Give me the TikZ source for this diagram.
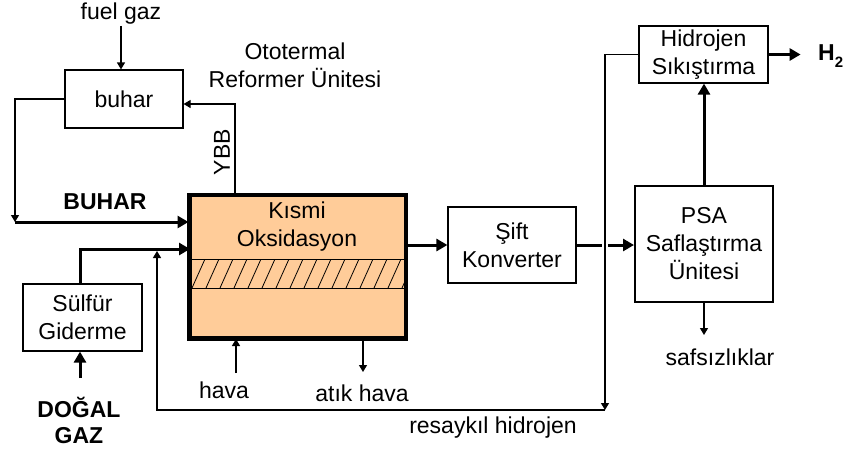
\documentclass[tikz,border=0pt]{standalone}
\usepackage{fontspec}
\setmainfont{Liberation Sans}
\usetikzlibrary{arrows.meta,positioning}
\definecolor{peach}{HTML}{FFCC99}

\begin{document}
\begin{tikzpicture}[
    x=1pt, y=-1pt,
    font=\fontsize{23}{28}\selectfont,
    box/.style={rectangle, draw, line width=1.2pt, fill=white,
                align=center, inner sep=2pt},
    reactor/.style={rectangle, draw, line width=3pt, fill=peach},
    lbl/.style={align=center, inner sep=1pt},
    arr/.style={-{Triangle[length=7pt,width=8pt]}, line width=1.2pt},
    flow/.style={-{Triangle[length=11pt,width=12pt]}, line width=3pt}
  ]
  \useasboundingbox (0,0) rectangle (851,448);

  \node[box, minimum width=118, minimum height=58] (buhar) at (124,99) {buhar};
  \node[box, minimum width=119, minimum height=67] (sulfur) at (82.5,317.5)
    {Sülfür\\Giderme};
  \node[reactor, minimum width=215, minimum height=142] (kox) at (297.5,266.5) {};
  \node[box, minimum width=128, minimum height=76] (sift) at (512,245)
    {Şift\\Konverter};
  \node[box, line width=2pt, minimum width=138, minimum height=116] (psa)
    at (704,244) {PSA\\Saflaştırma\\Ünitesi};
  \node[box, minimum width=129, minimum height=57] (hid) at (703.5,54.5)
    {Hidrojen\\Sıkıştırma};

  \begin{scope}
    \clip (190,259) rectangle (405,288);
    \foreach \x in {178,192,...,420}
      \draw[line width=0.8pt] (\x,288) -- (\x+13,259);
  \end{scope}
  \draw[line width=0.8pt] (190,259) -- (405,259) (190,288) -- (405,288);
  \draw[line width=3pt] (kox.north west) rectangle (kox.south east);
  \node[lbl] (koxlbl) at (297,227) {Kısmi\\Oksidasyon};

  \node[lbl] (fuel) at (121,14) {fuel gaz};
  \node[lbl] (otr) at (295,65) {Ototermal\\Reformer Ünitesi};
  \node[lbl, rotate=90] (ybb) at (222,152) {YBB};
  \node[lbl, font=\fontsize{23}{28}\selectfont\bfseries] (steam) at (105,202) {BUHAR};
  \node[lbl, font=\fontsize{23}{26}\selectfont\bfseries] (ng) at (79,420) {DOĞAL\\GAZ};
  \node[lbl] (hava) at (224,390) {hava};
  \node[lbl] (atik) at (362,393) {atık hava};
  \node[lbl] (imp) at (720,357) {safsızlıklar};
  \node[lbl] (rec) at (493,428) {resaykıl hidrojen};
  \node[lbl, anchor=west, font=\fontsize{23}{28}\selectfont\bfseries] (h2)
    at (817,56) {H\raisebox{-7pt}{\fontsize{15}{15}\selectfont 2}};

  \coordinate (bin) at (15,222);
  \coordinate (ybbout) at (235,195);
  \coordinate (in2) at (190,249);
  \coordinate (ngin) at (80,378);
  \coordinate (airin) at (236,373);
  \coordinate (exh) at (363,372);
  \coordinate (impin) at (704,335);
  \coordinate (rc1) at (605,410);
  \coordinate (rc2) at (157,251);

  \draw[arr] (fuel.south -| 121,0) -- (buhar.north -| 121,0);
  \draw[arr] (buhar.west) -| (bin);
  \draw[flow] (bin) -- (bin -| kox.west);
  \draw[arr] (ybbout) |- ([yshift=-5pt]buhar.east);
  \draw[flow] (sulfur.north -| 80,0) |- (in2);
  \draw[flow] (ngin) -- (ngin |- sulfur.south);
  \draw[arr] (airin) -- (airin |- kox.south);
  \draw[arr] (exh |- kox.south) -- (exh);
  \draw[flow] (kox.east |- sift.west) -- (sift.west);
  \draw[flow] (sift.east) -- (psa.west |- sift.east);
  \draw[flow] (psa.north) -- (psa.north |- hid.south);
  \draw[flow] (hid.east) -- ++(32,0);
  \draw[arr] (psa.south) -- (impin);
  \draw[arr, preaction={draw=white, line width=6pt, -}] (hid.west) -| (rc1);
  \draw[arr] (rc1) -| (rc2);
\end{tikzpicture}
\end{document}
